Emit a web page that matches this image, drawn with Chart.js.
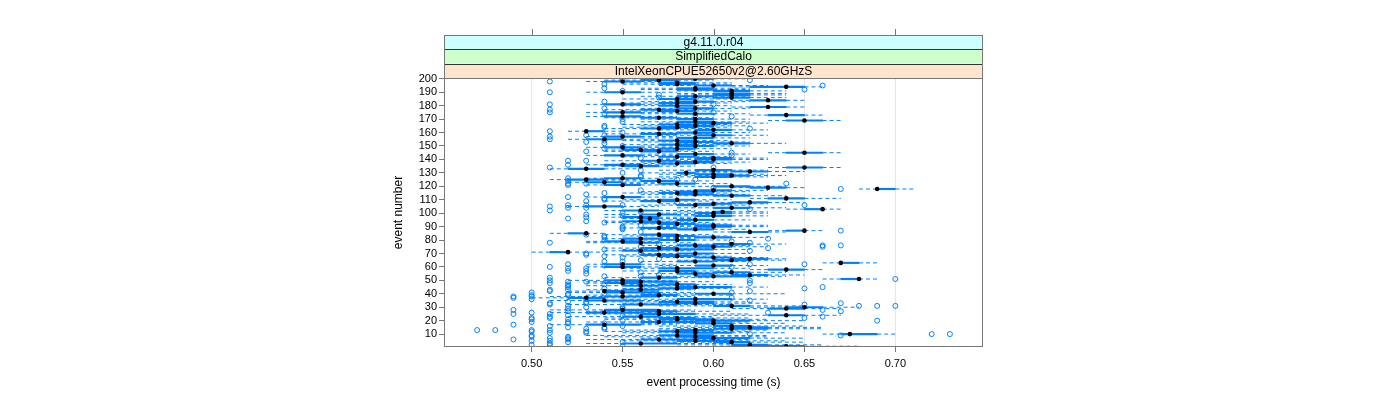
<!DOCTYPE html>
<html lang="en">
<head>
    <meta charset="UTF-8">
    <title>event processing time per event</title>
    <style>
        body {
            margin: 0;
            background: #fff;
        }
    </style>
</head>
<body>
    <canvas id="chart" width="1400" height="400"></canvas>

    <script src="https://cdn.jsdelivr.net/npm/chart.js"></script>
    <script>
        // strip labels, outermost first
        const stripLabels = ['g4.11.0.r04', 'SimplifiedCalo', 'IntelXeonCPUE52650v2@2.60GHzS'];
        const timeTicks = [0.50, 0.55, 0.60, 0.65, 0.70];
        const eventTicks = [10, 20, 30, 40, 50, 60, 70, 80, 90, 100, 110, 120, 130, 140, 150, 160, 170, 180, 190, 200];

        // per event (1..200), seconds
        const median = [
            0.64,0.62,0.56,0.61,0.59,0.57,0.60,0.59,0.58,0.675,
            0.59,0.58,0.59,0.61,0.62,0.61,0.54,0.60,0.57,0.60,
            0.58,0.58,0.56,0.64,0.57,0.54,0.57,0.55,0.64,0.65,
            0.61,0.56,0.59,0.58,0.54,0.59,0.53,0.55,0.57,0.60,
            0.55,0.54,0.56,0.58,0.59,0.56,0.58,0.55,0.56,0.55,
            0.68,0.57,0.60,0.62,0.59,0.61,0.58,0.64,0.58,0.55,
            0.60,0.55,0.67,0.59,0.61,0.62,0.60,0.58,0.57,0.59,
            0.52,0.56,0.58,0.57,0.60,0.59,0.61,0.56,0.55,0.58,
            0.56,0.60,0.58,0.57,0.53,0.62,0.65,0.59,0.57,0.60,
            0.60,0.58,0.57,0.56,0.59,0.565,0.56,0.60,0.57,0.60,
            0.605,0.56,0.66,0.61,0.54,0.59,0.60,0.62,0.57,0.58,
            0.64,0.55,0.61,0.59,0.58,0.59,0.60,0.69,0.63,0.61,
            0.55,0.58,0.54,0.57,0.53,0.55,0.60,0.61,0.60,0.585,
            0.62,0.60,0.53,0.65,0.56,0.55,0.58,0.59,0.57,0.60,
            0.60,0.58,0.55,0.59,0.65,0.57,0.56,0.58,0.55,0.59,
            0.58,0.61,0.59,0.58,0.54,0.59,0.55,0.60,0.57,0.59,
            0.53,0.60,0.57,0.58,0.59,0.58,0.60,0.59,0.65,0.59,
            0.57,0.55,0.64,0.59,0.55,0.58,0.57,0.59,0.63,0.58,
            0.55,0.58,0.59,0.63,0.58,0.61,0.59,0.61,0.61,0.55,
            0.61,0.59,0.59,0.64,0.60,0.58,0.58,0.55,0.57,0.59
        ];
        const lowerHinge = [
            0.63,0.61,0.55,0.60,0.58,0.56,0.59,0.58,0.57,0.67,
            0.58,0.57,0.58,0.60,0.61,0.60,0.53,0.59,0.56,0.59,
            0.57,0.57,0.55,0.63,0.56,0.53,0.56,0.54,0.63,0.64,
            0.60,0.55,0.58,0.57,0.53,0.58,0.52,0.54,0.56,0.59,
            0.54,0.54,0.55,0.57,0.58,0.55,0.57,0.54,0.55,0.54,
            0.67,0.56,0.59,0.61,0.58,0.60,0.57,0.63,0.57,0.54,
            0.59,0.54,0.67,0.58,0.60,0.61,0.59,0.57,0.56,0.58,
            0.51,0.55,0.57,0.56,0.59,0.58,0.60,0.55,0.54,0.57,
            0.55,0.59,0.57,0.56,0.52,0.61,0.64,0.58,0.56,0.59,
            0.59,0.57,0.56,0.55,0.58,0.56,0.55,0.59,0.56,0.59,
            0.60,0.55,0.65,0.60,0.53,0.58,0.59,0.61,0.56,0.57,
            0.63,0.54,0.60,0.58,0.57,0.58,0.59,0.69,0.62,0.60,
            0.54,0.57,0.53,0.56,0.52,0.54,0.59,0.60,0.59,0.58,
            0.61,0.59,0.52,0.64,0.55,0.54,0.57,0.58,0.56,0.59,
            0.59,0.57,0.54,0.58,0.64,0.56,0.55,0.57,0.54,0.58,
            0.57,0.60,0.58,0.57,0.53,0.58,0.54,0.59,0.56,0.58,
            0.53,0.59,0.56,0.57,0.58,0.57,0.59,0.58,0.64,0.58,
            0.56,0.54,0.63,0.58,0.54,0.57,0.56,0.58,0.62,0.57,
            0.54,0.57,0.58,0.62,0.57,0.60,0.58,0.60,0.60,0.54,
            0.60,0.58,0.58,0.62,0.59,0.57,0.57,0.54,0.56,0.58
        ];
        const upperHinge = [
            0.65,0.63,0.58,0.62,0.61,0.59,0.62,0.60,0.60,0.69,
            0.61,0.59,0.60,0.63,0.63,0.62,0.56,0.61,0.59,0.62,
            0.60,0.59,0.57,0.65,0.59,0.56,0.58,0.57,0.65,0.66,
            0.62,0.58,0.60,0.60,0.56,0.61,0.54,0.57,0.58,0.61,
            0.57,0.55,0.57,0.59,0.61,0.57,0.59,0.56,0.58,0.56,
            0.68,0.58,0.62,0.63,0.60,0.62,0.59,0.65,0.60,0.56,
            0.61,0.56,0.68,0.60,0.62,0.63,0.61,0.59,0.58,0.60,
            0.52,0.57,0.60,0.58,0.61,0.60,0.62,0.57,0.56,0.59,
            0.57,0.61,0.59,0.58,0.53,0.63,0.65,0.60,0.58,0.61,
            0.61,0.59,0.58,0.57,0.60,0.57,0.57,0.61,0.58,0.61,
            0.61,0.57,0.66,0.62,0.55,0.60,0.61,0.63,0.58,0.59,
            0.65,0.56,0.62,0.60,0.59,0.60,0.61,0.70,0.64,0.62,
            0.56,0.59,0.55,0.58,0.54,0.56,0.61,0.62,0.61,0.59,
            0.63,0.61,0.54,0.66,0.57,0.56,0.59,0.60,0.58,0.61,
            0.61,0.59,0.56,0.60,0.66,0.58,0.57,0.59,0.56,0.60,
            0.59,0.62,0.60,0.59,0.55,0.60,0.56,0.61,0.58,0.60,
            0.54,0.61,0.58,0.59,0.60,0.59,0.61,0.60,0.66,0.60,
            0.58,0.56,0.65,0.60,0.56,0.59,0.58,0.60,0.64,0.59,
            0.56,0.59,0.60,0.64,0.59,0.62,0.60,0.62,0.62,0.56,
            0.62,0.60,0.60,0.65,0.61,0.59,0.59,0.56,0.58,0.60
        ];
        const lowerWhisker = [
            0.60,0.58,0.53,0.57,0.55,0.53,0.56,0.54,0.53,0.66,
            0.55,0.54,0.55,0.57,0.58,0.57,0.51,0.56,0.53,0.56,
            0.54,0.54,0.52,0.60,0.53,0.51,0.53,0.51,0.61,0.62,
            0.57,0.52,0.55,0.54,0.51,0.55,0.50,0.51,0.53,0.56,
            0.52,0.52,0.53,0.55,0.56,0.53,0.55,0.53,0.53,0.52,
            0.66,0.54,0.57,0.59,0.56,0.58,0.55,0.62,0.55,0.53,
            0.57,0.53,0.66,0.56,0.58,0.60,0.57,0.55,0.54,0.56,
            0.50,0.54,0.55,0.54,0.57,0.56,0.58,0.53,0.53,0.55,
            0.54,0.57,0.55,0.54,0.51,0.60,0.63,0.56,0.55,0.57,
            0.57,0.55,0.54,0.54,0.56,0.55,0.54,0.58,0.54,0.57,
            0.58,0.54,0.64,0.58,0.52,0.56,0.57,0.60,0.54,0.55,
            0.62,0.53,0.58,0.56,0.55,0.56,0.57,0.68,0.61,0.58,
            0.53,0.55,0.52,0.54,0.51,0.53,0.57,0.58,0.57,0.56,
            0.59,0.57,0.51,0.63,0.54,0.53,0.55,0.56,0.54,0.57,
            0.57,0.55,0.53,0.56,0.63,0.54,0.54,0.55,0.53,0.56,
            0.55,0.58,0.56,0.55,0.52,0.56,0.53,0.57,0.54,0.56,
            0.52,0.57,0.54,0.55,0.56,0.55,0.57,0.56,0.63,0.56,
            0.54,0.53,0.62,0.56,0.53,0.55,0.54,0.56,0.61,0.55,
            0.53,0.55,0.56,0.61,0.55,0.58,0.56,0.58,0.58,0.53,
            0.58,0.56,0.56,0.61,0.57,0.55,0.55,0.53,0.54,0.56
        ];
        const upperWhisker = [
            0.68,0.66,0.61,0.65,0.64,0.62,0.65,0.63,0.63,0.70,
            0.64,0.62,0.63,0.66,0.66,0.65,0.58,0.64,0.62,0.65,
            0.63,0.62,0.60,0.67,0.62,0.58,0.61,0.59,0.67,0.68,
            0.65,0.61,0.63,0.62,0.58,0.63,0.56,0.59,0.61,0.64,
            0.59,0.57,0.59,0.61,0.63,0.59,0.61,0.58,0.60,0.58,
            0.69,0.60,0.64,0.65,0.62,0.64,0.61,0.66,0.62,0.58,
            0.63,0.58,0.69,0.62,0.64,0.64,0.63,0.61,0.60,0.62,
            0.54,0.59,0.62,0.60,0.63,0.62,0.64,0.59,0.57,0.61,
            0.59,0.63,0.61,0.60,0.54,0.64,0.66,0.62,0.60,0.63,
            0.63,0.61,0.60,0.59,0.62,0.59,0.59,0.63,0.60,0.63,
            0.63,0.59,0.67,0.64,0.57,0.62,0.63,0.65,0.60,0.61,
            0.67,0.58,0.64,0.62,0.61,0.62,0.63,0.71,0.65,0.64,
            0.58,0.61,0.57,0.60,0.56,0.58,0.63,0.64,0.63,0.61,
            0.65,0.63,0.56,0.67,0.59,0.58,0.61,0.62,0.60,0.63,
            0.63,0.61,0.58,0.62,0.67,0.60,0.59,0.61,0.58,0.62,
            0.61,0.64,0.62,0.61,0.57,0.62,0.58,0.63,0.60,0.62,
            0.55,0.63,0.60,0.61,0.62,0.61,0.63,0.62,0.67,0.62,
            0.60,0.58,0.66,0.62,0.58,0.61,0.60,0.62,0.65,0.61,
            0.58,0.61,0.62,0.65,0.61,0.64,0.62,0.64,0.64,0.58,
            0.64,0.62,0.62,0.66,0.63,0.61,0.61,0.57,0.60,0.62
        ];

        // single runs outside the whiskers
        const outlierEvent = [
            2,2,4,5,5,6,7,7,8,9,
            9,10,10,10,11,12,13,13,13,13,
            14,15,15,16,17,18,19,20,21,22,
            22,22,23,24,25,25,26,27,28,28,
            29,30,31,31,31,31,32,33,33,34,
            35,36,37,38,39,40,41,41,42,43,
            44,45,45,47,48,49,50,51,52,53,
            55,57,58,59,60,61,62,62,62,64,
            65,66,68,70,71,72,74,75,76,76,
            77,78,79,80,81,82,84,86,87,89,
            90,93,96,98,100,102,103,104,104,106,
            106,106,106,109,111,114,118,122,122,122,
            124,125,125,128,134,134,139,139,143,146,
            152,153,155,158,158,161,163,165,172,173,
            175,175,177,179,181,181,184,190,191,192,
            195,198,198,199,
            1,3,4,6,8,11,12,14,16,18,
            19,20,21,23,24,26,27,29,30,32,
            33,34,36,37,38,39,40,42,43,44,
            46,47,48,49,50,53,54,56,57,59,
            60,64,67,69,73,75,78,83,88,91,
            94,97,99,101,105,108,110,112,115,117,
            119,121,126,127,130,132,136,141,145,148,
            150,154,157,160,164,168,170,174,178,183,
            186,188,193,196,200
        ];
        const outlierTime = [
            0.50,0.51,0.52,0.50,0.51,0.49,0.51,0.52,0.50,0.50,
            0.67,0.72,0.73,0.62,0.51,0.50,0.47,0.48,0.50,0.51,
            0.53,0.52,0.54,0.51,0.49,0.52,0.50,0.69,0.50,0.50,
            0.51,0.65,0.66,0.52,0.49,0.51,0.63,0.67,0.49,0.66,
            0.52,0.55,0.52,0.68,0.69,0.70,0.65,0.51,0.67,0.52,
            0.62,0.50,0.61,0.50,0.50,0.52,0.50,0.61,0.62,0.51,
            0.65,0.52,0.66,0.52,0.62,0.53,0.62,0.70,0.51,0.54,
            0.53,0.52,0.58,0.53,0.61,0.54,0.52,0.62,0.65,0.54,
            0.56,0.57,0.54,0.53,0.56,0.62,0.63,0.66,0.66,0.67,
            0.57,0.62,0.61,0.54,0.63,0.54,0.53,0.56,0.67,0.55,
            0.55,0.54,0.52,0.55,0.55,0.51,0.62,0.52,0.53,0.52,
            0.53,0.55,0.65,0.53,0.54,0.53,0.67,0.52,0.53,0.64,
            0.52,0.58,0.59,0.56,0.51,0.60,0.53,0.52,0.61,0.53,
            0.54,0.53,0.51,0.54,0.53,0.51,0.62,0.54,0.61,0.59,
            0.51,0.60,0.51,0.58,0.51,0.60,0.58,0.51,0.55,0.65,
            0.66,0.51,0.58,0.62,
            0.55,0.51,0.55,0.52,0.52,0.53,0.53,0.54,0.55,0.54,
            0.52,0.55,0.52,0.51,0.55,0.50,0.52,0.55,0.53,0.51,
            0.53,0.53,0.53,0.49,0.49,0.52,0.54,0.51,0.52,0.54,
            0.52,0.54,0.51,0.52,0.51,0.56,0.57,0.56,0.53,0.52,
            0.51,0.55,0.55,0.53,0.54,0.56,0.51,0.54,0.55,0.56,
            0.53,0.53,0.53,0.56,0.51,0.58,0.54,0.52,0.54,0.56,
            0.60,0.52,0.52,0.56,0.55,0.56,0.52,0.56,0.61,0.54,
            0.55,0.54,0.51,0.55,0.54,0.55,0.55,0.54,0.54,0.54,
            0.57,0.57,0.54,0.54,0.55
        ];

        const events = median.map((_, i) => i + 1);

        // build chart data from the arrays
        const whiskerPoints = [];
        const boxPoints = [];
        events.forEach((ev, i) => {
            whiskerPoints.push(
                { x: lowerWhisker[i], y: ev }, { x: lowerHinge[i], y: ev }, { x: null, y: ev },
                { x: upperHinge[i], y: ev }, { x: upperWhisker[i], y: ev }, { x: null, y: ev }
            );
            boxPoints.push({ y: ev, x: [lowerHinge[i], upperHinge[i]] });
        });
        const medianPoints = events.map((ev, i) => ({ x: median[i], y: ev }));
        const outlierPoints = outlierEvent.map((ev, i) => ({ x: outlierTime[i], y: ev }));

        const stripColors = ['#ccffff', '#ccffcc', '#ffe5cc'];
        const frameColor = '#777777';
        const fontStack = '"Liberation Sans", Arial, sans-serif';

        // strips, top ticks and panel box, lattice style
        const latticeFrame = {
            id: 'latticeFrame',
            afterDraw(chart) {
                const { ctx, chartArea: area, scales } = chart;
                const stripH = 14.33;
                const stripTop = area.top - stripH * stripLabels.length;
                ctx.save();
                ctx.lineWidth = 1;
                ctx.font = '12px ' + fontStack;
                ctx.textAlign = 'center';
                ctx.textBaseline = 'middle';
                stripLabels.forEach((label, i) => {
                    const y0 = stripTop + i * stripH;
                    ctx.fillStyle = stripColors[i];
                    ctx.fillRect(area.left, y0, area.width, stripH);
                    ctx.strokeStyle = '#333';
                    ctx.beginPath();
                    ctx.moveTo(area.left, Math.round(y0) + 0.5);
                    ctx.lineTo(area.right, Math.round(y0) + 0.5);
                    ctx.stroke();
                    ctx.fillStyle = '#000';
                    ctx.fillText(label, (area.left + area.right) / 2, y0 + stripH / 2 + 0.5);
                });
                ctx.strokeStyle = frameColor;
                ctx.strokeRect(area.left + 0.5, Math.round(stripTop) + 0.5, area.width - 1, area.top - Math.round(stripTop));
                timeTicks.forEach(v => {
                    const px = Math.round(scales.x.getPixelForValue(v)) + 0.5;
                    ctx.beginPath();
                    ctx.moveTo(px, stripTop - 6);
                    ctx.lineTo(px, stripTop);
                    ctx.stroke();
                });
                ctx.strokeRect(area.left + 0.5, area.top + 0.5, area.width - 1, area.height - 1);
                ctx.restore();
            }
        };

        Chart.defaults.font.family = fontStack;
        Chart.defaults.color = '#000';

        const ctx = document.getElementById('chart').getContext('2d');
        const chart = new Chart(ctx, {
            type: 'scatter',
            data: {
                datasets: [
                    {
                        label: 'median',
                        data: medianPoints,
                        pointRadius: 2.3,
                        pointBackgroundColor: '#000',
                        pointBorderWidth: 0
                    },
                    {
                        label: 'outliers',
                        data: outlierPoints,
                        pointRadius: 2.5,
                        pointBackgroundColor: 'rgba(0,0,0,0)',
                        pointBorderColor: '#0080ff',
                        pointBorderWidth: 1
                    },
                    {
                        type: 'bar',
                        label: 'box',
                        indexAxis: 'y',
                        data: boxPoints,
                        barThickness: 1.5,
                        backgroundColor: '#0080ff',
                        borderWidth: 0
                    },
                    {
                        type: 'line',
                        label: 'whiskers',
                        data: whiskerPoints,
                        borderColor: '#0080ff',
                        borderWidth: 1,
                        borderDash: [4, 3],
                        pointRadius: 0,
                        spanGaps: false,
                        fill: false
                    }
                ]
            },
            options: {
                responsive: false,
                animation: false,
                layout: {
                    padding: { left: 390, right: 417, top: 78, bottom: 0 }
                },
                plugins: {
                    legend: { display: false },
                    tooltip: { enabled: false }
                },
                scales: {
                    x: {
                        type: 'linear',
                        position: 'bottom',
                        min: 0.4518,
                        max: 0.7482,
                        offset: false,
                        afterBuildTicks: s => { s.ticks = timeTicks.map(v => ({ value: v })); },
                        afterFit: s => { s.height = 53; },
                        ticks: {
                            callback: v => v.toFixed(2),
                            font: { size: 11 },
                            padding: 5,
                            maxRotation: 0,
                            autoSkip: false
                        },
                        grid: { color: '#e6e6e6', tickColor: frameColor, tickLength: 5, offset: false },
                        border: { display: false },
                        title: {
                            display: true,
                            text: 'event processing time (s)',
                            font: { size: 12 },
                            padding: { top: 0, bottom: 10 }
                        }
                    },
                    y: {
                        type: 'linear',
                        min: 0.4,
                        max: 200.6,
                        offset: false,
                        afterBuildTicks: s => { s.ticks = eventTicks.map(v => ({ value: v })); },
                        afterFit: s => { s.width = 54; },
                        ticks: { font: { size: 11 }, padding: 2, autoSkip: false },
                        grid: { drawOnChartArea: false, tickColor: frameColor, tickLength: 5, offset: false },
                        border: { display: false },
                        title: {
                            display: true,
                            text: 'event number',
                            font: { size: 12 },
                            padding: { top: 1, bottom: 0 }
                        }
                    }
                }
            },
            plugins: [latticeFrame]
        });
    </script>
</body>
</html>
